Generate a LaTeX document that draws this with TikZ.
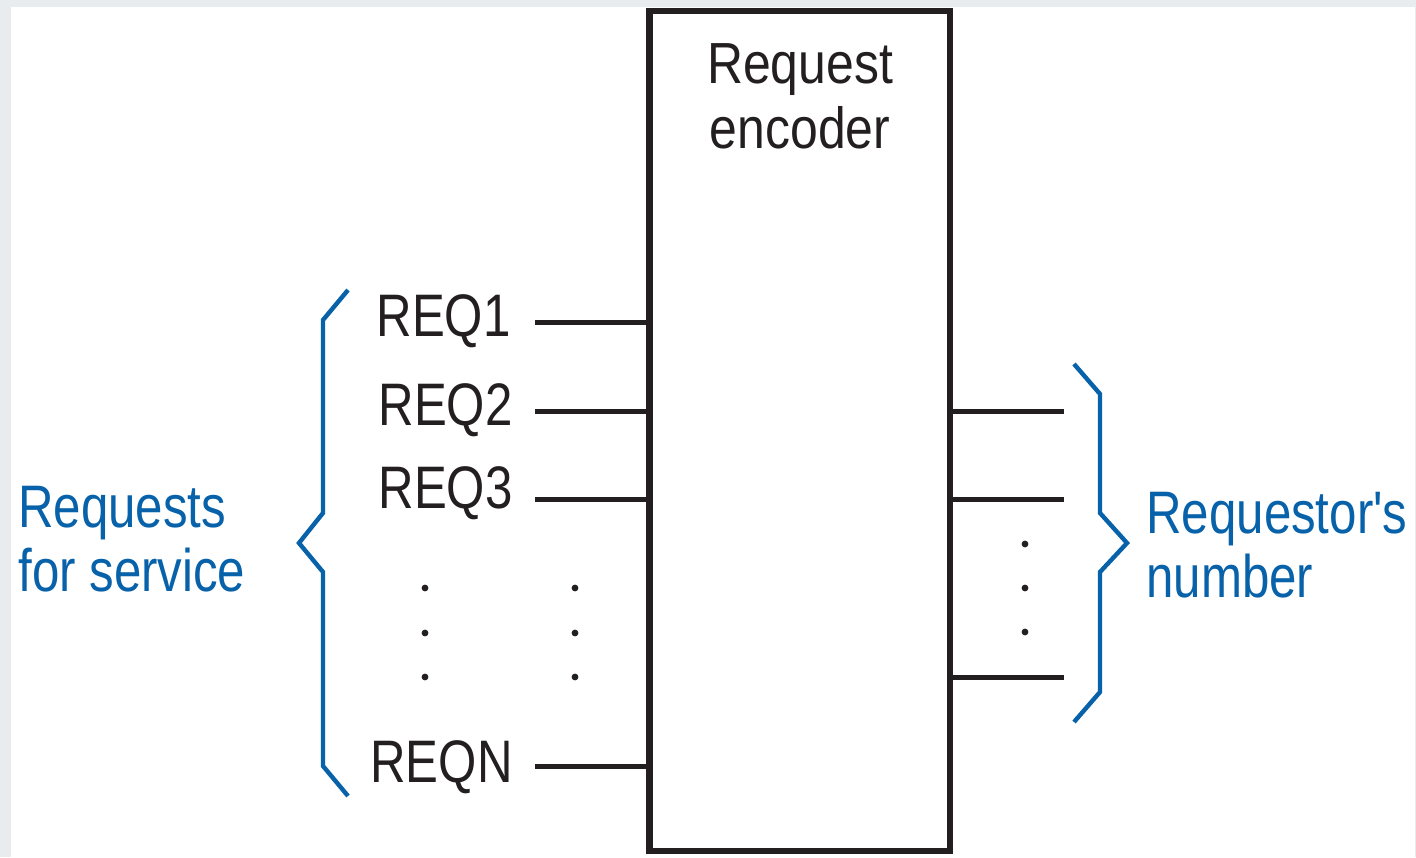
\documentclass[tikz,border=0pt]{standalone}
\usepackage{fontspec}
\setmainfont{Liberation Sans}
\newfontfamily\lblfont{Liberation Sans}[FakeStretch=0.82]
\newfontfamily\boxfont{Liberation Sans}[FakeStretch=0.86]
\definecolor{bracecol}{RGB}{8,98,170}
\definecolor{ink}{RGB}{35,31,32}
\definecolor{framecol}{RGB}{232,236,239}

\begin{document}
\begin{tikzpicture}[x=0.5pt,y=-0.5pt,
  wire/.style={draw=ink, line width=2.5pt},
  brace/.style={draw=bracecol, line width=2.2pt, line join=miter},
  reqlabel/.style={inner sep=0pt, anchor=base east, text=ink,
    font=\lblfont\fontsize{30}{32}\selectfont},
  sidelabel/.style={inner sep=0pt, anchor=base west, align=left, text=bracecol,
    font=\lblfont\fontsize{30}{32}\selectfont},
  dot/.style={fill=ink}
]
% page frame
\fill[framecol] (0,0) rectangle (1416,857);
\fill[white] (11,7) rectangle (1415,857);
\useasboundingbox (0,0) rectangle (1416,857);

% encoder block
\node[draw=ink, line width=3.4pt, outer sep=0pt, inner sep=0pt,
      minimum width=150.25pt, minimum height=420pt, anchor=north west]
      (enc) at (649.5,11) {};
% base anchor of a two-line node sits on the last line
\node[inner sep=0pt, anchor=base, align=center, text=ink,
      font=\boxfont\fontsize{29}{32.5}\selectfont]
      (title) at (800,148) {Request\\encoder};

% request inputs
\node[reqlabel] (l1) at (511,336) {REQ1};
\node[reqlabel] (l2) at (513,425) {REQ2};
\node[reqlabel] (l3) at (513,508) {REQ3};
\node[reqlabel] (ln) at (513,782) {REQN};
\coordinate (i1) at (535,322);
\coordinate (i2) at (535,411);
\coordinate (i3) at (535,499);
\coordinate (in) at (535,766);
\foreach \c in {i1,i2,i3,in} \draw[wire] (\c) -- (\c -| enc.west);

% encoded outputs
\coordinate (o1) at (1064,411);
\coordinate (o2) at (1064,499);
\coordinate (on) at (1064,677);
\foreach \c in {o1,o2,on} \draw[wire] (\c -| enc.east) -- (\c);

% ellipsis dots
\foreach \y in {588,633,677} {
  \fill[dot] (425,\y) circle[radius=1.7pt];
  \fill[dot] (575,\y) circle[radius=1.7pt];
}
\foreach \y in {544,588,632} \fill[dot] (1025,\y) circle[radius=1.7pt];

% braces
\draw[brace] (348,290) -- (323,320) -- (323,513) -- (299,543) -- (323,572) -- (323,766) -- (348,796);
\draw[brace] (1074,364) -- (1100,394) -- (1100,513) -- (1127,543) -- (1100,572) -- (1100,692) -- (1074,722);

% group labels
\node[sidelabel] (req) at (18,591) {Requests\\for service};
\node[sidelabel] (num) at (1146,597) {Requestor's\\number};
\end{tikzpicture}
\end{document}
